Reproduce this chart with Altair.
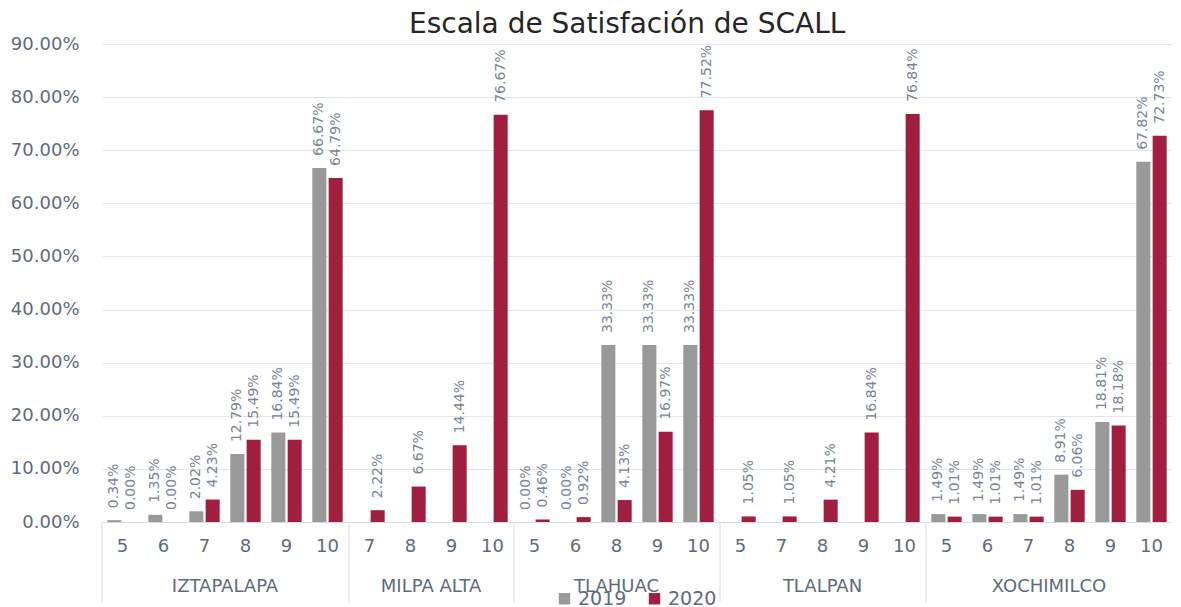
import altair as alt
import pandas as pd

groups = ["IZTAPALAPA", "MILPA ALTA", "TLAHUAC", "TLALPAN", "XOCHIMILCO"]
categories = [
    [5, 6, 7, 8, 9, 10],
    [7, 8, 9, 10],
    [5, 6, 8, 9, 10],
    [5, 7, 8, 9, 10],
    [5, 6, 7, 8, 9, 10],
]
values_2019 = [
    [0.34, 1.35, 2.02, 12.79, 16.84, 66.67],
    [None, None, None, None],
    [0.00, 0.00, 33.33, 33.33, 33.33],
    [None, None, None, None, None],
    [1.49, 1.49, 1.49, 8.91, 18.81, 67.82],
]
values_2020 = [
    [0.00, 0.00, 4.23, 15.49, 15.49, 64.79],
    [2.22, 6.67, 14.44, 76.67],
    [0.46, 0.92, 4.13, 16.97, 77.52],
    [1.05, 1.05, 4.21, 16.84, 76.84],
    [1.01, 1.01, 1.01, 6.06, 18.18, 72.73],
]
years = ["2019", "2020"]
colors = ["#999999", "#A01F3E"]
y_ticks = [0, 10, 20, 30, 40, 50, 60, 70, 80, 90]

rows = []
for g, cs, a, b in zip(groups, categories, values_2019, values_2020):
    for c, v1, v2 in zip(cs, a, b):
        if v1 is not None:
            rows.append({"group": g, "cat": c, "year": "2019", "value": v1})
        rows.append({"group": g, "cat": c, "year": "2020", "value": v2})
df = pd.DataFrame(rows)

H = 478
FONT = "DejaVu Sans"
TXT = "#5f6b7d"

base = alt.Chart().encode(
    x=alt.X("cat:O", title=None,
            scale=alt.Scale(paddingInner=0.26, paddingOuter=0.13),
            axis=alt.Axis(labelAngle=0, labelFontSize=18, labelPadding=15,
                          labelFont=FONT,
                          labelColor=TXT, domainColor="#d9dce3", ticks=False)),
    xOffset=alt.XOffset("year:N", scale=alt.Scale(domain=years, paddingInner=0.14)),
)

bars = base.mark_bar().encode(
    y=alt.Y("value:Q", title=None,
            scale=alt.Scale(domain=[0, 90], nice=False),
            axis=alt.Axis(values=y_ticks, labelExpr="format(datum.value, '.2f') + '%'",
                          labelFontSize=18, labelPadding=22, labelColor=TXT,
                          labelFont=FONT,
                          domain=False, ticks=False, gridColor="#e3e6ec")),
    color=alt.Color("year:N", title=None,
                    scale=alt.Scale(domain=years, range=colors),
                    legend=alt.Legend(orient="none", direction="horizontal",
                                      legendX=453, legendY=545,
                                      symbolType="square", symbolSize=130,
                                      labelFontSize=19, labelColor=TXT,
                                      labelFont=FONT,
                                      columnPadding=18)),
)

labels = base.mark_text(angle=270, align="left", baseline="middle", dx=12,
                        fontSize=14, font=FONT, color="#7a8598").encode(
    y=alt.Y("value:Q"),
    text=alt.Text("label:N"),
).transform_calculate(label="format(datum.value, '.2f') + '%'")

seps = alt.Chart().mark_rule(color="#d9dce3", strokeWidth=1).encode(
    x=alt.value(0), y=alt.value(H), y2=alt.value(H + 80)
).transform_aggregate(n="count()", groupby=["group"])

chart = alt.layer(bars, labels, seps, data=df).properties(
    width={"step": 41, "for": "position"}, height=H
).facet(
    column=alt.Column("group:N", title=None,
                      header=alt.Header(labelOrient="bottom", labelFontSize=18,
                                        labelColor=TXT, labelFont=FONT, labelPadding=-25)),
    spacing=0,
).resolve_scale(x="independent", xOffset="independent").properties(
    title=alt.TitleParams("Escala de Satisfación de SCALL", fontSize=28, font=FONT,
                          fontWeight="normal", color="#262626", anchor="middle",
                          offset=-4, dx=36),
    padding={"left": 2, "right": 0, "top": 3, "bottom": 0},
).configure_view(stroke=None)

chart.save("out.html", embed_options={"renderer": "svg", "actions": False})
